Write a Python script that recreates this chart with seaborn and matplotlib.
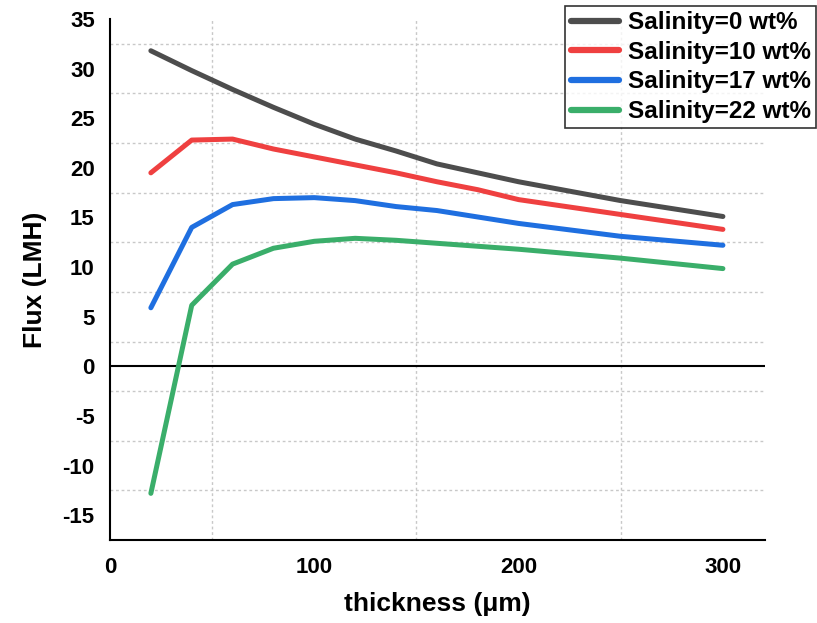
import matplotlib
matplotlib.use("Agg")
import matplotlib.pyplot as plt
import seaborn as sns
import pandas as pd

thickness = [20, 40, 60, 80, 100, 120, 140, 160, 180, 200, 250, 300]
flux_0 = [31.8, 29.8, 27.9, 26.1, 24.4, 22.9, 21.7, 20.4, 19.5, 18.6, 16.7, 15.1]
flux_10 = [19.5, 22.8, 22.9, 21.9, 21.1, 20.3, 19.5, 18.6, 17.8, 16.8, 15.3, 13.8]
flux_17 = [5.9, 14.0, 16.3, 16.9, 17.0, 16.7, 16.1, 15.7, 15.05, 14.4, 13.1, 12.2]
flux_22 = [-12.8, 6.15, 10.3, 11.9, 12.6, 12.9, 12.7, 12.4, 12.1, 11.8, 10.9, 9.85]
series_labels = ["Salinity=0 wt%", "Salinity=10 wt%", "Salinity=17 wt%", "Salinity=22 wt%"]
colors = ["#4d4d4d", "#ef4040", "#1f6fe0", "#3aae6a"]

rows = []
for lab, vals in zip(series_labels, [flux_0, flux_10, flux_17, flux_22]):
    for x, y in zip(thickness, vals):
        rows.append({"thickness": x, "flux": y, "series": lab})
df = pd.DataFrame(rows)

sns.set_style("white")
plt.rcParams["font.family"] = ["Liberation Sans", "DejaVu Sans"]
plt.rcParams["axes.unicode_minus"] = False
plt.rcParams["text.color"] = "black"
plt.rcParams["axes.labelcolor"] = "black"
plt.rcParams["xtick.color"] = "black"
plt.rcParams["ytick.color"] = "black"

fig = plt.figure(figsize=(8.17, 6.23), dpi=100)
ax = fig.add_axes([110/817, 83/623, (765-110)/817, (540-19)/623])

sns.lineplot(data=df, x="thickness", y="flux", hue="series", palette=colors,
             linewidth=3.6, ax=ax, legend=False, zorder=3)

ax.set_xlim(0, 320.6)
ax.set_ylim(-17.5, 35)
ax.set_xticks([0, 100, 200, 300])
ax.set_yticks([-15, -10, -5, 0, 5, 10, 15, 20, 25, 30, 35])
ax.set_xticks([50, 150, 250], minor=True)
ax.set_yticks([-12.5, -7.5, -2.5, 2.5, 7.5, 12.5, 17.5, 22.5, 27.5, 32.5], minor=True)
ax.grid(False)
ax.grid(which="minor", color="#c8c8c8", linestyle=(0, (2, 2)), linewidth=1.0, zorder=0)
ax.tick_params(which="both", length=0)
ax.tick_params(axis="y", labelsize=16, pad=11)
ax.tick_params(axis="x", labelsize=16, pad=12)
for lab in ax.get_xticklabels() + ax.get_yticklabels():
    lab.set_fontweight("bold")

ax.axhline(0, color="black", linewidth=1.5, zorder=2)
for s in ["top", "right"]:
    ax.spines[s].set_visible(False)
for s in ["left", "bottom"]:
    ax.spines[s].set_color("black")
    ax.spines[s].set_linewidth(1.5)

ax.set_xlabel("thickness (μm)", fontsize=19, fontweight="bold", labelpad=10)
ax.set_ylabel("Flux (LMH)", fontsize=19, fontweight="bold", labelpad=11)

handles = [plt.Line2D([], [], color=c, linewidth=4.5) for c in colors]
leg = fig.legend(handles, series_labels, loc="upper right",
                 bbox_to_anchor=(816/817, (623-6)/623),
                 prop={"size": 17.5, "weight": "bold"},
                 frameon=True, fancybox=False, edgecolor="black",
                 handlelength=2.0, handletextpad=0.35, labelspacing=0.27,
                 borderpad=0.22, borderaxespad=0)
leg.get_frame().set_linewidth(1.2)

fig.savefig("out.png", dpi=100)
